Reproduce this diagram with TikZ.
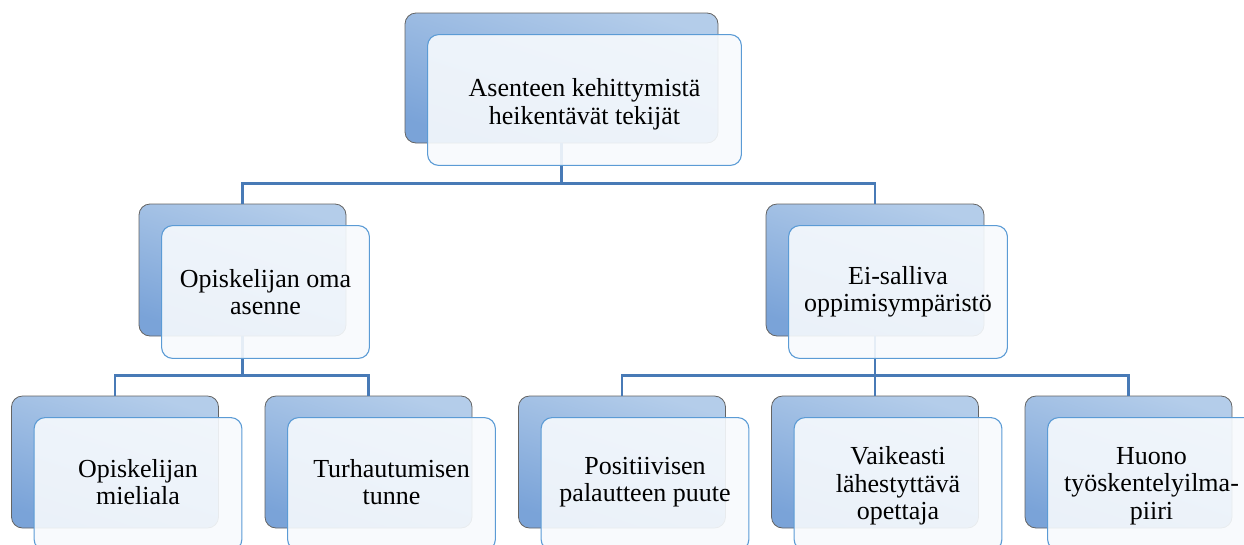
\documentclass[tikz,border=0pt]{standalone}
\usepackage{fontspec}
\setmainfont{Liberation Serif}
\newfontfamily\cardfont{Liberation Serif}
\usetikzlibrary{calc}

\definecolor{BackTop}{RGB}{180,205,234}
\definecolor{BackBot}{RGB}{122,163,216}
\definecolor{BackLine}{RGB}{100,100,100}
\definecolor{FrontLine}{RGB}{91,155,213}
\definecolor{FrontFill}{RGB}{247,250,253}
\definecolor{ConnBlue}{RGB}{72,122,182}

\tikzset{
  backbox/.style={draw=BackLine, line width=0.8pt, rounded corners=11pt,
    top color=BackTop, bottom color=BackBot, shading angle=-18,
    inner sep=0pt},
  frontbox/.style={draw=FrontLine, line width=1.1pt, rounded corners=11pt,
    fill=FrontFill, fill opacity=0.9, inner sep=0pt},
  cardtext/.style={inner sep=0pt, align=center,
    font=\cardfont\fontsize{26}{27.5}\selectfont},
  conn/.style={draw=ConnBlue, line width=2.6pt}
}

% back card of a tier box: name, x, y, width, height
\newcommand\backcard[5]{%
  \node[backbox, minimum width=#4pt, minimum height=#5pt] (#1b) at (#2,#3) {};}
% front card, same size as its back card, shifted right and down, with its label
% (optional argument: vertical offset of the label)
\newcommand\frontcard[3][0]{%
  \path let \p1=($(#2b.north east)-(#2b.south west)$) in
    node[frontbox, minimum width=\x1, minimum height=\y1]
      (#2f) at ($(#2b)+(23,22)$) {};
  \node[cardtext] (#2t) at ($(#2f)+(0,#1)$) {#3};}

\begin{document}
\begin{tikzpicture}[x=1pt,y=-1pt]
\useasboundingbox (0,0) rectangle (1244,544);
\clip (0,0) rectangle (1244,544);

% back cards
\backcard{top}{561.5}{78}{313}{130}
\backcard{la}{242.5}{270}{207}{132}
\backcard{ra}{875}{270}{218}{132}
\backcard{b1}{115}{462}{207}{132}
\backcard{b2}{368.5}{462}{207}{132}
\backcard{b3}{622}{462}{207}{132}
\backcard{b4}{875}{462}{207}{132}
\backcard{b5}{1128.5}{462}{207}{132}

% connectors
\coordinate (busA) at ($(lab.north)+(0,-20)$);
\coordinate (busL) at ($(b1b.north)+(0,-20)$);
\coordinate (busR) at ($(b3b.north)+(0,-20)$);
\draw[conn] (topb.south) |- (busA) -- (lab.north);
\draw[conn] (topb.south) |- (rab.north |- busA) -- (rab.north);
\draw[conn] (lab.south) |- (busL) -- (b1b.north);
\draw[conn] (lab.south) |- (b2b.north |- busL) -- (b2b.north);
\draw[conn] (rab.south) |- (busR) -- (b3b.north);
\draw[conn] (rab.south) -- (b4b.north);
\draw[conn] (rab.south) |- (b5b.north |- busR) -- (b5b.north);

% front cards with the labels
\frontcard[4]{top}{Asenteen kehittymistä\\heikentävät tekijät}
\frontcard[0]{la}{Opiskelijan oma\\asenne}
\frontcard[0]{ra}{Ei-salliva\\oppimisympäristö}
\frontcard[-2]{b1}{Opiskelijan\\mieliala}
\frontcard[-2]{b2}{Turhautumisen\\tunne}
\frontcard[-2]{b3}{Positiivisen\\palautteen puute}
\frontcard[2]{b4}{Vaikeasti\\lähestyttävä\\opettaja}
\frontcard[2]{b5}{Huono\\työskentelyilma-\\piiri}
\end{tikzpicture}
\end{document}
